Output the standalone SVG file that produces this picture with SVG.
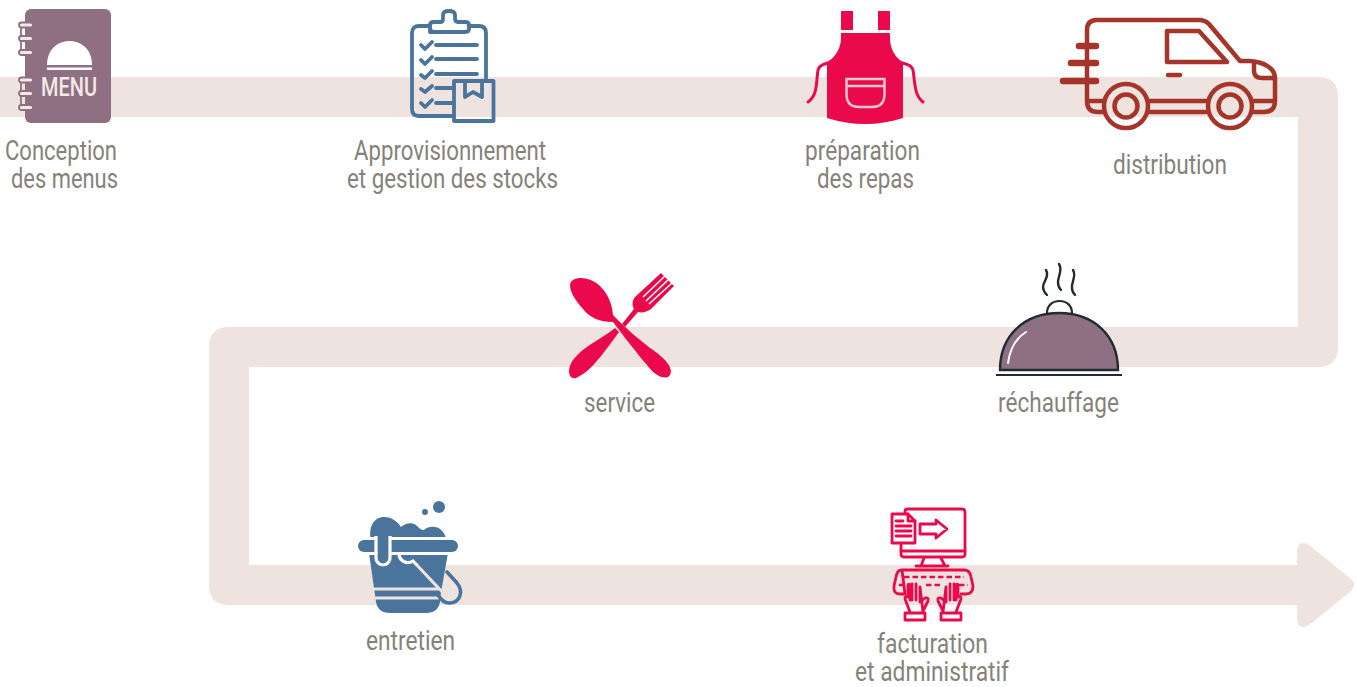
<svg xmlns="http://www.w3.org/2000/svg" width="1357" height="687" viewBox="0 0 1357 687">
<style>
text{font-family:"Roboto","Liberation Sans",sans-serif}
.lbl{font-size:27px;fill:#85827a;font-weight:400}
.van{fill:none;stroke:#a5352b;stroke-width:4.5;stroke-linecap:round;stroke-linejoin:round}
.blue{fill:none;stroke:#4b749d;stroke-width:3.8;stroke-linecap:round;stroke-linejoin:round}
.pc{fill:none;stroke:#ea0a4b;stroke-width:2.8;stroke-linecap:round;stroke-linejoin:round}
.dash{fill:none;stroke:#ea0a4b;stroke-width:2.6;stroke-dasharray:5.500 3}
.smoke{fill:none;stroke:#222b33;stroke-width:2.400;stroke-linecap:round}
</style>
<defs>
<mask id="bucketGaps" maskUnits="userSpaceOnUse" x="340" y="490" width="140" height="140">
<rect x="340" y="490" width="140" height="140" fill="#fff"/>
<g fill="none" stroke="#000" stroke-width="3.200" stroke-linecap="butt">
<path d="M353,553.500H376M390,553.500H465"/>
<path d="M376,536V558a7,7 0 0 0 14,0V536"/>
<path d="M390,538.500H470M353,538.500H376"/>
<path d="M399,553a9,9 0 0 0 14,8L447,597"/>
<path d="M360,589H438M360,598H445"/>
</g>
</mask>
</defs>
<path id="band" fill="#eee3df" d="M0,77H1318Q1338,77 1338,97V347Q1338,367 1318,367H249V565H1297V552Q1297,539 1309,545L1350,578Q1358,585 1350,592L1309,625Q1297,631 1297,618V605H229Q209,605 209,585V347Q209,327 229,327H1298V117H0Z"/>

<g id="node-menu">
<rect x="25" y="9" width="86" height="114" rx="6" fill="#8f6f82"/>
<g fill="#f3e9e6" stroke="#8f6f82" stroke-width="1.800">
<rect x="19" y="22.500" width="14" height="5" rx="2.500"/>
<rect x="19" y="36" width="14" height="5" rx="2.500"/>
<rect x="19" y="50" width="14" height="5" rx="2.500"/>
<rect x="19" y="77.500" width="14" height="5" rx="2.500"/>
<rect x="19" y="91" width="14" height="5" rx="2.500"/>
<rect x="19" y="105" width="14" height="5" rx="2.500"/>
</g>
<path d="M21,27V36M21,41V50M21,82.500V91M21,96V105" stroke="#8f6f82" stroke-width="1.800" fill="none"/>
<path d="M47,65C47,50 57,41 69.500,41C82,41 92,50 92,65Z" fill="#fff"/>
<rect x="47" y="67.500" width="45" height="2.500" fill="#fff"/>
<text x="41" y="96" font-size="25" font-weight="500" fill="#f3e9e6" textLength="56" lengthAdjust="spacingAndGlyphs">MENU</text>
</g>
<text class="lbl" x="5" y="160" textLength="112" lengthAdjust="spacingAndGlyphs">Conception</text>
<text class="lbl" x="11" y="188" textLength="107" lengthAdjust="spacingAndGlyphs">des menus</text>

<g id="node-stocks">
<path class="blue" d="M454,116H419Q412,116 412,109V33Q412,26 419,26H430M469,26H479Q486,26 486,33V81"/>
<path class="blue" d="M430,32V25Q430,22 434,22H441Q443,22 443,18V15Q443,11 449,11Q455,11 455,15V18Q455,22 458,22H465Q469,22 469,25V29Q469,32 465,32H434Q430,32 430,28"/>
<path class="blue" d="M436,45H477M436,59H477M436,74H477M436,88H454M436,103H454"/>
<path class="blue" d="M421,45L425,49L432,42M421,60L425,64L432,57M421,75L425,78L432,71M421,89L425,92L432,86M421,103L425,107L432,100"/>
<rect class="blue" x="454" y="81" width="39.500" height="40"/>
<path class="blue" d="M465,81V97L473,92L482,97V81"/>
</g>
<text class="lbl" x="354" y="160" textLength="192" lengthAdjust="spacingAndGlyphs">Approvisionnement</text>
<text class="lbl" x="347" y="188" textLength="211" lengthAdjust="spacingAndGlyphs">et gestion des stocks</text>

<g id="node-apron">
<rect x="841" y="11" width="12" height="19" fill="#ea0a4b"/>
<rect x="878" y="11" width="12" height="19" fill="#ea0a4b"/>
<path fill="#ea0a4b" d="M841,33H890V38C890,48 895,58 903,62V118Q865,130 827,118V62C835,58 841,48 841,38Z"/>
<path d="M828,63C823,64 819,66 818,70C816,82 818,95 808,102M902,63C907,64 912,66 913,70C915,82 914,95 923,102" fill="none" stroke="#ea0a4b" stroke-width="3" stroke-linecap="round"/>
<path d="M846.500,79H884.500V94Q884.500,107 872,107H859Q846.500,107 846.500,94ZM846.500,86H884.500" fill="none" stroke="#f3c9d4" stroke-width="2.400"/>
</g>
<text class="lbl" x="805" y="160" textLength="115" lengthAdjust="spacingAndGlyphs">préparation</text>
<text class="lbl" x="817" y="188" textLength="97" lengthAdjust="spacingAndGlyphs">des repas</text>

<g id="node-van">
<path class="van" d="M1087,101V30Q1087,20 1097,20H1199Q1205,20 1209,24L1240,61H1250C1265,62 1275,69 1275,78V101Q1275,112 1264,112H1254M1206,112H1150M1103,112H1098Q1087,112 1087,101M1087,101H1104M1149,101H1207M1253,101H1275"/>
<path class="van" d="M1167,31V62H1227L1199,31Z"/>
<path class="van" d="M1168,75H1180"/>
<path class="van" d="M1254,64V71Q1254,78 1262,78H1275"/>
<path class="van" style="stroke-width:6.500" d="M1079,46H1096M1071,63H1096M1063,81H1096"/>
<circle class="van" cx="1126" cy="106" r="22"/>
<circle class="van" cx="1126" cy="106" r="11.500"/>
<circle class="van" cx="1230" cy="106" r="22"/>
<circle class="van" cx="1230" cy="106" r="11.500"/>
</g>
<text class="lbl" x="1113" y="174" textLength="114" lengthAdjust="spacingAndGlyphs">distribution</text>

<g id="node-service" fill="#ea0a4b">
<path d="M570,285C571,275 590,276 600,286C610,296 612,306 613,315C625,328 640,340 650,348C665,358 674,368 670,375C666,381 655,376 647,365C640,357 625,338 613,322C600,322 590,318 583,309C575,300 570,292 570,285Z"/>
<path d="M615,328C600,340 585,345 573,360C567,368 568,380 576,378C590,372 600,358 619,332Z"/>
<path d="M622,324L634,309C632,305 632,301 635,297L661,273L674,286L651,309C647,312 642,313 638,312L625,327Z"/>
<path d="M643,297L665.500,275.500M646,301L669,279M649,304L672,283" stroke="#fff" stroke-width="1.500" fill="none"/>
</g>
<text class="lbl" x="584" y="412" textLength="71" lengthAdjust="spacingAndGlyphs">service</text>

<g id="node-rechauffage">
<path d="M1047,313C1047,306 1052,301 1059.500,301C1067,301 1072,306 1072,313" fill="#fff" stroke="#222b33" stroke-width="2.200"/>
<path d="M1000,370C1000,335 1025,313 1059,313C1093,313 1118,335 1118,370Z" fill="#8f6f82" stroke="#222b33" stroke-width="2.400"/>
<path d="M1008,363C1010,348 1016,338 1026,332" fill="none" stroke="#fff" stroke-width="2" stroke-linecap="round"/>
<path d="M996,375H1122" stroke="#222b33" stroke-width="2.200" fill="none"/>
<path class="smoke" d="M1046,270C1050,276 1043,282 1043,287C1043,291 1045,293 1047,295M1059,264C1063,270 1058,276 1058,282C1058,285 1059,288 1061,290M1073,270C1077,276 1071,282 1072,288C1072,291 1073,293 1075,295"/>
</g>
<text class="lbl" x="998" y="412" textLength="121" lengthAdjust="spacingAndGlyphs">réchauffage</text>

<g id="node-entretien">
<g mask="url(#bucketGaps)">
<circle cx="439" cy="507" r="6" fill="#4b749d"/>
<circle cx="425" cy="512" r="3" fill="#4b749d"/>
<path fill="#4b749d" d="M371,540C368,527 374,517 384,517C392,517 398,522 401,527C405,523 412,522 416,525C419,528 421,530 424,530C428,526 436,526 440,529C444,532 446,536 446,541H389V558a5.500,5.500 0 0 1 -11,0V541Z"/>
<path fill="#4b749d" d="M364,540H452a6,6 0 0 1 0,12H364a6,6 0 0 1 0,-12Z"/>
<path fill="#4b749d" d="M369,553H448L440,598V602Q438,613 426,613H390Q378,613 376,602Z"/>
</g>
<path d="M447,572L457,583C464,592 460,603 449,603C445,603 441,600 438,595" fill="none" stroke="#4b749d" stroke-width="3.600" stroke-linecap="round"/>
</g>
<text class="lbl" x="366" y="650" textLength="89" lengthAdjust="spacingAndGlyphs">entretien</text>

<g id="node-facturation">
<path class="pc" d="M905,513V511Q905,509 908,509H962Q965,509 965,512V554Q965,557 962,557H904Q901,557 901,554V544"/>
<path class="pc" d="M901,551H965M924,558L921,566M941,558L945,566M916,566H948"/>
<path class="pc" style="fill:#fff" d="M892,514H908L915,521V543H892Z"/>
<path class="pc" d="M896,521H903M896,526H911M896,531H911M896,536H911M908,514V521H915"/>
<path class="pc" d="M920,524H936V520L947,529L936,538V534H920Z"/>
<path class="pc" d="M902,570H964Q970,570 971,577L973,586Q973,594 966,594H961M905,594H900Q893,594 894,586L896,577Q897,570 902,570Z"/>
<path class="dash" d="M904,577H964M899,585H907M959,585H968M926,585H940"/>
<path class="pc" d="M910,612L905,599Q905,595 908,597V586Q908,583 910,585V600M912,584V600M916,584V600M920,587V602L925,598Q929,597 928,601L923,611V612ZM905,613H925V620H905Z"/>
<path class="pc" d="M956,612L961,599Q961,595 958,597V586Q958,583 956,585V600M954,584V600M950,584V600M946,587V602L941,598Q937,597 938,601L943,611V612ZM961,613H941V620H961Z"/>
</g>
<text class="lbl" x="877" y="653" textLength="111" lengthAdjust="spacingAndGlyphs">facturation</text>
<text class="lbl" x="855" y="681" textLength="154" lengthAdjust="spacingAndGlyphs">et administratif</text>
</svg>
